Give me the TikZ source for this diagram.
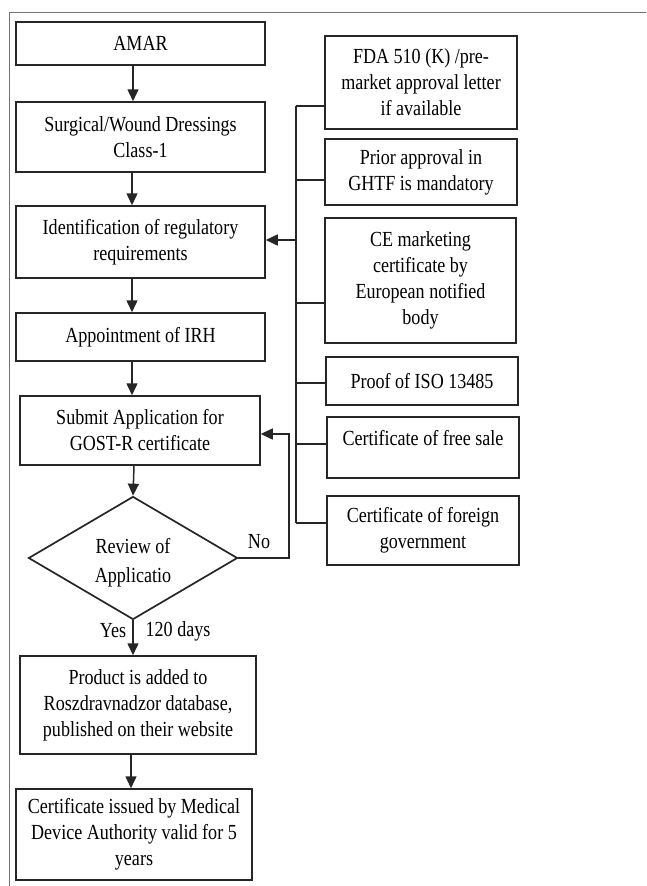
\documentclass[tikz,border=0pt]{standalone}
\usepackage{fontspec}
\setmainfont{Liberation Serif}[FakeStretch=0.84]
\usetikzlibrary{shapes.geometric,arrows.meta}
\begin{document}
\begin{tikzpicture}[x=1pt,y=-1pt,
  box/.style={draw=black!85, line width=1.5pt, align=center, inner sep=0pt,
    font=\fontsize{21.5}{26}\selectfont},
  decision/.style={draw=black!85, line width=1.7pt, shape=diamond, inner sep=0pt},
  lbl/.style={inner sep=0pt, align=center, font=\fontsize{21.5}{26}\selectfont},
  arrow/.style={draw=black!85, line width=1.5pt, -{Triangle[length=12pt,width=11pt]}},
  link/.style={draw=black!85, line width=1.5pt},
  frame/.style={draw=black!55, line width=1pt}]
\useasboundingbox (0,0) rectangle (646,886);
\draw[frame] (9,886) -- (9,12) -- (646,12);

% main column
\node[box, minimum width=249, minimum height=43] (amar) at (140.5,43.5) {AMAR};
\node[box, minimum width=249, minimum height=70] (surg) at (140.5,137) {Surgical/Wound Dressings\\Class-1};
\node[box, minimum width=249, minimum height=72] (ident) at (140.5,242) {Identification of regulatory\\requirements};
\node[box, minimum width=249, minimum height=48] (irh) at (140.5,337) {Appointment of IRH};
\node[box, minimum width=240, minimum height=69] (submit) at (140,430.5) {Submit Application for\\GOST-R certificate};
\node[decision, minimum width=209, minimum height=123] (review) at (133,558) {};
\node[lbl, font=\fontsize{21.5}{29}\selectfont] (reviewtxt) at (133,563) {Review of\\Applicatio};
\node[box, minimum width=236, minimum height=98] (prod) at (138,705) {Product is added to\\Roszdravnadzor database,\\published on their website};
\node[box, minimum width=236, minimum height=91] (cert) at (134,834.5) {Certificate issued by Medical\\Device Authority valid for 5\\years};

% required documents
\node[box, minimum width=192, minimum height=93] (fda) at (421,82.5) {FDA 510 (K) /pre-\\market approval letter\\if available};
\node[box, minimum width=192, minimum height=66] (prior) at (421,172) {Prior approval in\\GHTF is mandatory};
\node[box, minimum width=191, minimum height=125] (ce) at (420.5,280.5) {CE marketing\\certificate by\\European notified\\body};
\node[box, minimum width=192, minimum height=48] (iso) at (422,381) {Proof of ISO 13485};
\node[box, minimum width=192, minimum height=61] (free) at (423,447.5) {\raisebox{9pt}[\height][\depth]{Certificate of free sale}};
\node[box, minimum width=192, minimum height=69] (foreign) at (423,530.5) {Certificate of foreign\\government};

% main flow arrows
\draw[arrow] ([xshift=-7.5pt]amar.south) -- ([xshift=-7.5pt]surg.north);
\draw[arrow] ([xshift=-8.5pt]surg.south) -- ([xshift=-8.5pt]ident.north);
\draw[arrow] ([xshift=-8.5pt]ident.south) -- ([xshift=-8.5pt]irh.north);
\draw[arrow] ([xshift=-8.5pt]irh.south) -- ([xshift=-8pt]submit.north);
\draw[arrow] ([xshift=-6pt]submit.south) -- (review.north);
\draw[arrow] (review.south) -- (review.south |- prod.north);
\draw[arrow] ([xshift=-7pt]prod.south) -- ([xshift=-3pt]cert.north);

% rejection loop
\coordinate (loop) at (289,434);
\draw[arrow] (review.east) -| (loop) -- (loop -| submit.east);
\node[lbl] (no) at (259,542) {No};
\node[lbl] (yes) at (113,631) {Yes};
\node[lbl] (days) at (178,631) {120 days};

% bracket collecting the documents
\coordinate (j1) at (296,106);
\coordinate (j2) at (296,180);
\coordinate (j3) at (296,303);
\coordinate (j4) at (296,383);
\coordinate (j5) at (296,444);
\coordinate (j6) at (296,523);
\coordinate (jm) at (296,240);
\draw[link] (j1) -- (j6);
\draw[link] (j1) -- (j1 -| fda.west);
\draw[link] (j2) -- (j2 -| prior.west);
\draw[link] (j3) -- (j3 -| ce.west);
\draw[link] (j4) -- (j4 -| iso.west);
\draw[link] (j5) -- (j5 -| free.west);
\draw[link] (j6) -- (j6 -| foreign.west);
\draw[arrow] (jm) -- (jm -| ident.east);
\end{tikzpicture}
\end{document}
